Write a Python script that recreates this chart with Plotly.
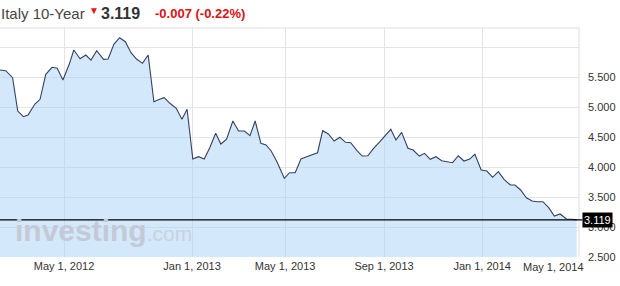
import plotly.graph_objects as go

# week offsets from chart start and 10-year yield values
weeks = [0, 1.0, 2.2, 3.1, 4.1, 4.9, 6.1, 7.0, 8.0, 9.1, 10.0, 11.0, 12.1, 12.9, 14.0, 15.0, 15.9, 16.9, 18.1, 18.9,
         19.9, 20.9, 21.9, 22.9, 23.9, 24.9, 25.9, 26.9, 27.8, 28.7, 29.7, 30.8, 31.8, 32.7, 33.7, 34.7, 35.7, 36.7, 37.7, 38.6,
         39.6, 40.7, 41.7, 42.7, 43.7, 44.6, 45.6, 46.5, 47.4, 48.4, 49.7, 50.6, 51.6, 52.6, 53.5, 54.5, 55.5, 56.4, 57.4, 58.4,
         59.4, 60.4, 61.3, 62.4, 63.3, 64.3, 65.3, 66.4, 67.3, 68.3, 69.2, 70.2, 71.3, 72.2, 73.3, 74.2, 75.2, 76.2, 77.2, 78.2,
         79.1, 80.1, 81.1, 82.1, 83.0, 84.1, 85.1, 86.1, 87.1, 88.1, 89.2, 90.0, 91.0, 92.0, 93.0, 93.9, 94.9, 95.9, 96.9, 97.9,
         99.0, 99.9, 100.8]
yields = [5.617, 5.605, 5.488, 4.933, 4.838, 4.867, 5.050, 5.128, 5.545, 5.662, 5.645, 5.450, 5.712, 5.950, 5.805, 5.867,
          5.783, 5.938, 5.795, 5.800, 6.045, 6.155, 6.088, 5.905, 5.795, 5.728, 5.867, 5.088, 5.125, 5.155, 5.062, 4.978,
          4.795, 4.962, 4.133, 4.172, 4.133, 4.328, 4.562, 4.383, 4.462, 4.767, 4.600, 4.600, 4.522, 4.767, 4.395, 4.367,
          4.267, 4.088, 3.812, 3.905, 3.905, 4.133, 4.167, 4.200, 4.238, 4.605, 4.550, 4.433, 4.495, 4.412, 4.405, 4.272,
          4.183, 4.188, 4.312, 4.422, 4.522, 4.628, 4.450, 4.578, 4.312, 4.283, 4.183, 4.228, 4.128, 4.172, 4.105, 4.088,
          4.072, 4.188, 4.100, 4.133, 4.212, 3.950, 3.933, 3.828, 3.922, 3.795, 3.700, 3.700, 3.617, 3.488, 3.433, 3.422,
          3.422, 3.322, 3.183, 3.217, 3.133, 3.128, 3.119]

x_tick_pos = [11.19, 33.57, 49.83, 67.13, 84.27]
x_tick_labels = ["May 1, 2012", "Jan 1, 2013", "May 1, 2013", "Sep 1, 2013", "Jan 1, 2014"]
last_label_pos = 96.77
last_label = "May 1, 2014"
y_tick_vals = [2.5, 3.0, 3.5, 4.0, 4.5, 5.0, 5.5, 6.0]
y_tick_text = ["2.500", "3.000", "3.500", "4.000", "4.500", "5.000", "5.500", ""]

title_name = "Italy 10-Year"
last_value = 3.119
change_text = "-0.007 (-0.22%)"

FONT = "Liberation Sans, Arial, sans-serif"

fig = go.Figure()
fig.add_trace(go.Scatter(
    x=weeks, y=yields, mode="lines",
    line=dict(color="#36415f", width=1.1),
    fill="tozeroy", fillcolor="rgba(170,210,250,0.5)",
    hoverinfo="skip", showlegend=False,
))

fig.update_layout(
    width=620, height=286,
    margin=dict(l=0, r=41, t=28, b=29),
    paper_bgcolor="white", plot_bgcolor="white",
    font=dict(family=FONT, size=11, color="#333"),
    xaxis=dict(range=[0, 101.2], tickvals=x_tick_pos, ticktext=x_tick_labels,
               showgrid=True, gridcolor="#e4e4e4", gridwidth=1, zeroline=False,
               showline=False, ticks="", ticklabelstandoff=1, tickfont=dict(size=11, color="#333")),
    yaxis=dict(range=[2.5, 6.317], tickvals=y_tick_vals, ticktext=y_tick_text, side="right",
               showgrid=True, gridcolor="#e4e4e4", gridwidth=1, zeroline=False,
               showline=False, ticks="", ticklabelstandoff=8,
               tickfont=dict(size=11, color="#333")),
)

# borders
fig.add_shape(type="line", xref="paper", yref="paper", x0=0, x1=1, y0=1, y1=1,
              line=dict(color="#dddddd", width=1))
fig.add_shape(type="line", xref="paper", yref="paper", x0=1, x1=1, y0=0, y1=1,
              line=dict(color="#dddddd", width=1))
# last value line
fig.add_shape(type="line", xref="paper", yref="y", x0=0, x1=1.006, y0=last_value, y1=last_value,
              line=dict(color="black", width=1.2))

# last value tag
fig.add_annotation(xref="paper", yref="y", x=1, y=last_value, xanchor="left", yanchor="middle",
                   xshift=3, text=f"{last_value:.3f}", showarrow=False,
                   font=dict(family=FONT, size=11, color="white"), bgcolor="black", borderpad=1)

# last x label
fig.add_annotation(xref="x", yref="paper", x=last_label_pos, y=0, yanchor="top", yshift=-2,
                   text=last_label, showarrow=False, font=dict(family=FONT, size=11, color="#333"))

# watermark
fig.add_annotation(xref="paper", yref="paper", x=0, y=0, xanchor="left", yanchor="bottom",
                   xshift=13, yshift=8, showarrow=False,
                   text="<b>investing</b><span style='font-size:21px;color:#c9d2de'>.com</span>",
                   font=dict(family=FONT, size=30, color="#c3cad6"))

# header
fig.add_annotation(xref="paper", yref="paper", x=0, y=1, xanchor="left", yanchor="middle",
                   xshift=-1, yshift=15, showarrow=False, text=title_name,
                   font=dict(family=FONT, size=15, color="#444"))
fig.add_annotation(xref="paper", yref="paper", x=0, y=1, xanchor="left", yanchor="middle",
                   xshift=87, yshift=18, showarrow=False, text="▼",
                   font=dict(family=FONT, size=10, color="#e8141c"))
fig.add_annotation(xref="paper", yref="paper", x=0, y=1, xanchor="left", yanchor="middle",
                   xshift=99, yshift=15, showarrow=False, text=f"<b>{last_value:.3f}</b>",
                   font=dict(family=FONT, size=16, color="#333"))
fig.add_annotation(xref="paper", yref="paper", x=0, y=1, xanchor="left", yanchor="middle",
                   xshift=153, yshift=15, showarrow=False, text=f"<b>{change_text}</b>",
                   font=dict(family=FONT, size=13, color="#dd1111"))

# footer (cut off)
fig.add_annotation(xref="paper", yref="paper", x=0, y=0, xanchor="left", yanchor="top",
                   xshift=255, yshift=-25, showarrow=False, text="Last update: 10:35:42",
                   font=dict(family=FONT, size=11, color="#555"))

fig.write_html("out.html")
